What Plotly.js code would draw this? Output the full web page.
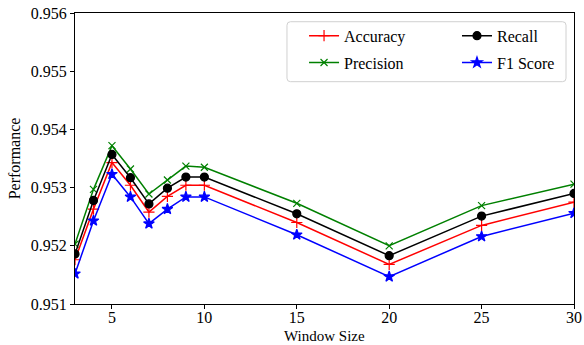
<!DOCTYPE html>
<html><head><meta charset="utf-8">
<script src="https://cdn.plot.ly/plotly-3.0.1.min.js"></script>
<style>html,body{margin:0;padding:0;background:#fff}#c{width:584px;height:345px}</style>
</head><body><div id="c"></div>
<script>
const windowSizes = [3, 4, 5, 6, 7, 8, 9, 10, 15, 20, 25, 30];
const accuracy  = [0.95176, 0.95263, 0.95343, 0.95304, 0.95258, 0.95285, 0.95304, 0.95304, 0.95240, 0.95168, 0.95235, 0.95275];
const precision = [0.95203, 0.95297, 0.95372, 0.95332, 0.95289, 0.95313, 0.95337, 0.95335, 0.95273, 0.95200, 0.95269, 0.95306];
const recall    = [0.95186, 0.95278, 0.95357, 0.95317, 0.95272, 0.95299, 0.95318, 0.95318, 0.95255, 0.95183, 0.95251, 0.95290];
const f1score   = [0.95152, 0.95243, 0.95323, 0.95284, 0.95238, 0.95263, 0.95284, 0.95284, 0.95219, 0.95147, 0.95216, 0.95256];
const xTicks = [5, 10, 15, 20, 25, 30];
const yTicks = [0.951, 0.952, 0.953, 0.954, 0.955, 0.956];

const font = 'Liberation Serif, DejaVu Serif, serif';
function tr(name, y, color, symbol, size, legend) {
  return {
    x: windowSizes, y: y, name: name, type: 'scatter', mode: 'lines+markers',
    line: {color: color, width: 1.5},
    marker: {symbol: symbol, size: size, color: color, line: {color: color, width: 1.2}},
    legend: legend, legendgroup: name
  };
}
const data = [
  tr('Accuracy', accuracy, '#ff0000', 'cross-thin', 8, 'legend'),
  tr('Precision', precision, '#008000', 'x-thin', 7, 'legend'),
  tr('Recall', recall, '#000000', 'circle', 8, 'legend2'),
  tr('F1 Score', f1score, '#0000ff', 'star', 8, 'legend2')
];
const legStyle = {
  orientation: 'v', y: 0.98, yanchor: 'top', xanchor: 'left',
  borderwidth: 0, bgcolor: 'rgba(0,0,0,0)', tracegroupgap: 3,
  font: {family: font, size: 16, color: '#000'}
};
// rounded legend frame (paper coords)
const bx0 = 0.4248, bx1 = 0.984, by0 = 0.764, by1 = 0.970, rx = 0.007, ry = 0.012;
const framePath = `M ${bx0+rx},${by1} L ${bx1-rx},${by1} Q ${bx1},${by1} ${bx1},${by1-ry} ` +
  `L ${bx1},${by0+ry} Q ${bx1},${by0} ${bx1-rx},${by0} L ${bx0+rx},${by0} Q ${bx0},${by0} ${bx0},${by0+ry} ` +
  `L ${bx0},${by1-ry} Q ${bx0},${by1} ${bx0+rx},${by1} Z`;
const layout = {
  width: 584, height: 345,
  margin: {l: 75, r: 10, t: 13, b: 41},
  paper_bgcolor: '#fff', plot_bgcolor: '#fff',
  font: {family: font, size: 16, color: '#000'},
  showlegend: true,
  legend: Object.assign({}, legStyle, {x: 0.459}),
  legend2: Object.assign({}, legStyle, {x: 0.7655}),
  shapes: [{
    type: 'path', xref: 'paper', yref: 'paper', path: framePath,
    line: {color: '#d0d0d0', width: 1}, fillcolor: 'rgba(255,255,255,0.8)', layer: 'above'
  }],
  annotations: [{
    text: 'Window Size', xref: 'paper', yref: 'paper', x: 0.5, y: -0.141,
    xanchor: 'center', yanchor: 'bottom', showarrow: false, borderpad: 0,
    font: {family: font, size: 15, color: '#000'}
  }],
  xaxis: {
    range: [3, 30], tickvals: xTicks, ticktext: xTicks.map(String),
    showgrid: false, zeroline: false, showline: true, mirror: true,
    linecolor: '#000', linewidth: 1, ticks: 'outside', ticklen: 4, tickcolor: '#000',
    ticklabelstandoff: -5
  },
  yaxis: {
    range: [0.951, 0.956], tickvals: yTicks, ticktext: yTicks.map(v => v.toFixed(3)),
    showgrid: false, zeroline: false, showline: true, mirror: true,
    linecolor: '#000', linewidth: 1, ticks: 'outside', ticklen: 4, tickcolor: '#000',
    title: {text: 'Performance', standoff: 6, font: {family: font, size: 16}}
  }
};
Plotly.newPlot('c', data, layout, {displayModeBar: false, staticPlot: true});
</script></body></html>
